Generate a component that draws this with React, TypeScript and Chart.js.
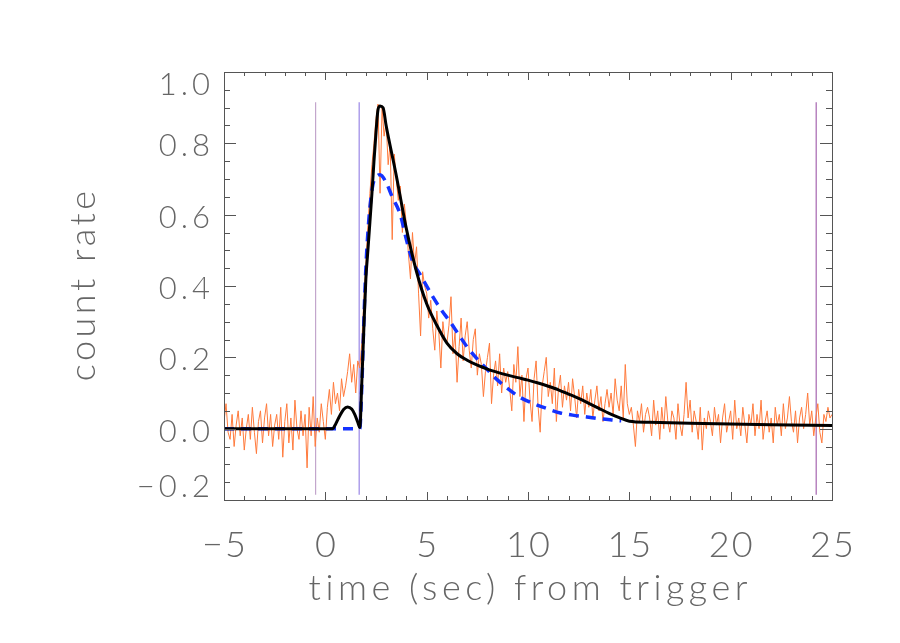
import React, { useEffect, useRef } from "react";
import { Chart, registerables } from "chart.js";

Chart.register(...registerables);

// ---- data ----
const BIN_START = -5;
const BIN_WIDTH = 0.1;
// observed count rate, one value per 0.1 s bin from -5.0 s to 25.0 s
const countRate = [
  0.02, 0.07, -0.01, -0.03, 0.04, -0.05, 0.01, 0.05, -0.02, 0.03,
  -0.06, 0.0, 0.04, -0.03, 0.06, -0.01, -0.07, 0.02, 0.05, -0.04,
  0.03, 0.07, -0.02, 0.04, -0.05, 0.01, 0.04, -0.03, 0.06, -0.08,
  0.02, 0.07, -0.04, 0.03, -0.06, 0.08, 0.0, -0.03, 0.05, -0.02,
  0.04, -0.11, 0.06, -0.02, 0.09, -0.05, 0.03, -0.01, 0.07, 0.02,
  -0.03, 0.06, 0.11, 0.04, 0.13, 0.07, 0.1, 0.05, 0.14, 0.09,
  0.12, 0.16, 0.21, 0.13, 0.18, 0.1, 0.19, 0.17, 0.24, 0.36,
  0.46, 0.57, 0.66, 0.74, 0.8, 0.87, 0.91, 0.66, 0.9, 0.82,
  0.86, 0.74, 0.8, 0.53, 0.77, 0.7, 0.64, 0.68, 0.55, 0.63,
  0.57, 0.49, 0.42, 0.55, 0.46, 0.51, 0.38, 0.26, 0.44, 0.4,
  0.38, 0.31, 0.36, 0.28, 0.22, 0.33, 0.27, 0.17, 0.3, 0.25,
  0.24, 0.29, 0.37, 0.21, 0.27, 0.13, 0.23, 0.31, 0.19, 0.26,
  0.3, 0.22, 0.17, 0.25, 0.28, 0.15, 0.21, 0.18, 0.09, 0.16,
  0.2, 0.24, 0.07, 0.15, 0.19, 0.12, 0.21, 0.1, 0.17, 0.13,
  0.16, 0.11, 0.05, 0.18, 0.13, 0.23, 0.09, 0.15, 0.02, 0.14,
  0.17, 0.08, 0.02, 0.14, 0.19, 0.06, -0.01, 0.12, 0.16, 0.2,
  0.09, 0.13, 0.07, 0.17, 0.02, 0.11, 0.15, 0.06, 0.12, 0.08,
  0.13, 0.05, 0.14, 0.09, 0.03, 0.11, 0.07, 0.12, 0.04, 0.1,
  0.06, 0.11, 0.03, 0.08, 0.12, 0.05, 0.09, 0.02, 0.07, 0.11,
  0.06, 0.1, 0.04, 0.14, 0.08, 0.05, 0.12, 0.03, 0.18, 0.07,
  0.04, 0.06, 0.01, -0.05, 0.05, 0.02, 0.07, -0.01, 0.04, 0.06,
  0.03, -0.02, 0.08, 0.01, 0.05, -0.03, 0.06, 0.0, 0.09, 0.02,
  -0.01, 0.05, 0.03, -0.03, 0.07, 0.01, -0.02, 0.04, 0.13, 0.03,
  0.08, -0.01, 0.05, 0.02, -0.03, 0.06, -0.06, 0.03, 0.0, 0.05,
  0.02, -0.02, 0.06, 0.01, 0.04, -0.04, 0.03, 0.07, -0.01, 0.02,
  0.05, -0.03, 0.08, 0.0, 0.03, -0.02, 0.06, 0.01, -0.04, 0.04,
  0.01, 0.07, -0.02, 0.04, 0.0, 0.08, -0.03, 0.02, 0.05, -0.01,
  0.03, -0.04, 0.06, 0.01, 0.04, -0.02, 0.07, 0.0, 0.03, 0.09,
  0.02, -0.01, 0.05, -0.04, 0.03, 0.06, 0.0, 0.04, 0.1, 0.01,
  0.05, -0.02, 0.03, 0.07, -0.01, -0.04, 0.04, 0.02, 0.06, 0.03,
  0.04,
];

// two-component fit (black solid)
const fitTimes = [
  -5, 0.35, 0.5, 0.7, 0.9, 1.1, 1.3, 1.45, 1.6, 1.7, 1.8, 1.9, 2.0, 2.1, 2.2,
  2.3, 2.4, 2.5, 2.6, 2.7, 2.85, 3.0, 3.5, 4.0, 4.5, 5.0, 5.5, 6.0, 6.5, 7.0,
  7.5, 8.0, 8.5, 9.0, 9.5, 10, 10.5, 11, 11.5, 12, 12.5, 13, 13.5, 14, 14.5,
  15, 16, 18, 20, 22, 25,
];
const fitValues = [
  0, 0, 0.012, 0.035, 0.054, 0.061, 0.055, 0.04, 0.018, 0.003, 0.13, 0.28,
  0.42, 0.5, 0.58, 0.66, 0.75, 0.83, 0.895, 0.905, 0.9, 0.85, 0.71, 0.56,
  0.44, 0.35, 0.29, 0.24, 0.21, 0.192, 0.178, 0.167, 0.158, 0.15, 0.143,
  0.136, 0.128, 0.119, 0.109, 0.097, 0.085, 0.071, 0.057, 0.043, 0.031, 0.021,
  0.018, 0.015, 0.013, 0.011, 0.009,
];

// single-pulse fit (blue dashed)
const pulseTimes = [
  -5, 1.7, 1.8, 1.9, 2.0, 2.1, 2.2, 2.35, 2.5, 2.7, 3.0, 3.3, 3.7, 4.0, 4.3,
  4.7, 5.0, 5.3, 5.7, 6.15, 6.6, 7.0, 7.5, 8.0, 8.5, 9.1, 9.6, 10.2, 10.9,
  11.6, 12.2, 12.9, 13.5, 14.2, 14.6,
];
const pulseValues = [
  0, 0, 0.12, 0.3, 0.45, 0.55, 0.62, 0.685, 0.705, 0.712, 0.69, 0.65, 0.6,
  0.53, 0.47, 0.43, 0.4, 0.37, 0.335, 0.3, 0.262, 0.229, 0.195, 0.165, 0.136,
  0.108, 0.088, 0.072, 0.057, 0.044, 0.038, 0.033, 0.028, 0.024, 0.022,
];

// interval markers (vertical lines)
const markerTimes = [-0.48, 1.67, 24.22];
const markerColors = ["#c3a6cc", "#9a86e6", "#a565b0"];
const markerLow = -0.185;
const markerHigh = 0.915;

// axes
const xTicks = [-5, 0, 5, 10, 15, 20, 25];
const yTicks = [-0.2, 0.0, 0.2, 0.4, 0.6, 0.8, 1.0];
const X_MIN = -5;
const X_MAX = 25;
const Y_MIN = -0.2;
const Y_MAX = 1.0;
const X_MINOR = 1;
const Y_MINOR = 0.05;
const X_TITLE = "time (sec) from trigger";
const Y_TITLE = "count rate";

const AXIS_COLOR = "#555555";
const TEXT_COLOR = "#666666";
const FONT_FAMILY = 'Lato, "DejaVu Sans", sans-serif';

const idlAxes = {
  id: "idlAxes",
  afterDraw(chart: any) {
    const { ctx, chartArea: a, scales } = chart;
    const xs = scales.x;
    const ys = scales.y;
    ctx.save();
    ctx.strokeStyle = AXIS_COLOR;
    ctx.lineWidth = 1;
    ctx.strokeRect(a.left + 0.5, a.top + 0.5, a.right - a.left, a.bottom - a.top);
    const seg = (x1: number, y1: number, x2: number, y2: number) => {
      ctx.beginPath();
      ctx.moveTo(x1, y1);
      ctx.lineTo(x2, y2);
      ctx.stroke();
    };
    const nx = Math.round((X_MAX - X_MIN) / X_MINOR);
    for (let i = 0; i <= nx; i++) {
      const v = X_MIN + i * X_MINOR;
      const px = Math.round(xs.getPixelForValue(v)) + 0.5;
      const major = xTicks.some((t) => Math.abs(t - v) < 1e-6);
      const len = major ? 8 : 4;
      seg(px, a.bottom, px, a.bottom - len);
      seg(px, a.top, px, a.top + len);
    }
    const ny = Math.round((Y_MAX - Y_MIN) / Y_MINOR);
    for (let i = 0; i <= ny; i++) {
      const v = Y_MIN + i * Y_MINOR;
      const py = Math.round(ys.getPixelForValue(v)) + 0.5;
      const major = yTicks.some((t) => Math.abs(t - v) < 1e-6);
      const len = major ? 12 : 6;
      seg(a.left, py, a.left + len, py);
      seg(a.right, py, a.right - len, py);
    }
    ctx.fillStyle = TEXT_COLOR;
    // y tick labels
    const ySp = 4;
    ctx.font = `300 31px ${FONT_FAMILY}`;
    (ctx as any).letterSpacing = `${ySp}px`;
    ctx.textAlign = "right";
    ctx.textBaseline = "middle";
    const half = 11.5;
    yTicks.forEach((v) => {
      let cy = ys.getPixelForValue(v) + 3;
      cy = Math.max(a.top + half + 1.5, Math.min(a.bottom - half - 1.5, cy));
      const txt = v.toFixed(1).replace("-", "\u2212");
      ctx.fillText(txt, 210 + ySp, cy);
    });
    // x tick labels
    const xSp = 2;
    ctx.font = `300 36px ${FONT_FAMILY}`;
    (ctx as any).letterSpacing = `${xSp}px`;
    ctx.textAlign = "center";
    ctx.textBaseline = "alphabetic";
    xTicks.forEach((v) => {
      const txt = String(v).replace("-", "\u2212");
      ctx.fillText(txt, xs.getPixelForValue(v) + xSp / 2, 557);
    });
    // titles
    const tSp = 4.5;
    (ctx as any).letterSpacing = `${tSp}px`;
    ctx.font = `300 36px ${FONT_FAMILY}`;
    ctx.fillText(X_TITLE, (a.left + a.right) / 2 + tSp / 2, 600);
    const ySpT = 3.5;
    (ctx as any).letterSpacing = `${ySpT}px`;
    ctx.save();
    ctx.translate(95, (a.top + a.bottom) / 2);
    ctx.rotate(-Math.PI / 2);
    ctx.fillText(Y_TITLE, ySpT / 2, 0);
    ctx.restore();
    ctx.restore();
  },
};

export default function App() {
  const ref = useRef<HTMLCanvasElement | null>(null);
  useEffect(() => {
    document.body.style.margin = "0";
    const canvas = ref.current;
    if (!canvas) return;
    const observed = countRate.map((v, i) => ({ x: BIN_START + i * BIN_WIDTH, y: v }));
    const fit = fitTimes.map((t, i) => ({ x: t, y: fitValues[i] }));
    const pulse = pulseTimes.map((t, i) => ({ x: t, y: pulseValues[i] }));
    const markers = markerTimes.map((t, i) => ({
      data: [
        { x: t, y: markerLow },
        { x: t, y: markerHigh },
      ],
      borderColor: markerColors[i],
      borderWidth: 1.2,
      pointRadius: 0,
      order: 3,
    }));
    const chart = new Chart(canvas, {
      type: "line",
      data: {
        datasets: [
          {
            data: fit,
            borderColor: "#000000",
            borderWidth: 3,
            pointRadius: 0,
            cubicInterpolationMode: "monotone",
            order: 0,
          },
          {
            data: pulse,
            borderColor: "#1432ff",
            borderWidth: 3.5,
            borderDash: [10, 7],
            pointRadius: 0,
            cubicInterpolationMode: "monotone",
            order: 1,
          },
          {
            data: observed,
            borderColor: "#ff7a3c",
            borderWidth: 1,
            pointRadius: 0,
            order: 2,
          },
          ...markers,
        ] as any,
      },
      options: {
        animation: false,
        responsive: false,
        devicePixelRatio: 1,
        layout: { padding: { left: 224, right: 68, top: 72, bottom: 143 } },
        plugins: { legend: { display: false }, tooltip: { enabled: false } },
        scales: {
          x: { type: "linear", min: X_MIN, max: X_MAX, display: false },
          y: { type: "linear", min: Y_MIN, max: Y_MAX, display: false },
        },
      },
      plugins: [idlAxes],
    });
    return () => chart.destroy();
  }, []);
  return (
    <div style={{ width: 900, height: 643, background: "#ffffff" }}>
      <canvas ref={ref} width={900} height={643} style={{ display: "block" }} />
    </div>
  );
}
